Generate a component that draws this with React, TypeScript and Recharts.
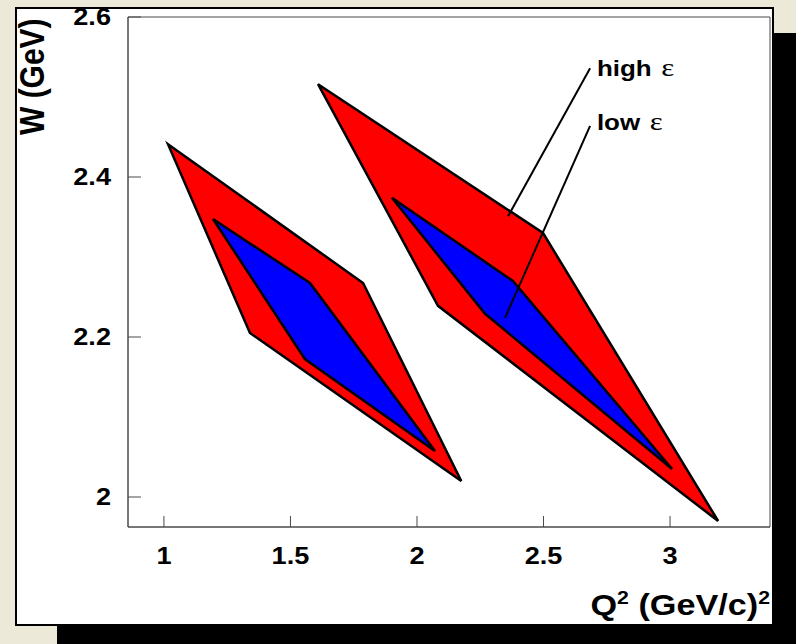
import { ScatterChart, Scatter, XAxis, YAxis, ReferenceArea } from "recharts";

// axes
const X_DOMAIN: [number, number] = [0.858, 3.395];
const Y_DOMAIN: [number, number] = [1.9625, 2.6];
const X_TICKS = [1, 1.5, 2, 2.5, 3];
const Y_TICKS = [2, 2.2, 2.4, 2.6];

// kinematic coverage, vertices as (Q^2, W)
const leftHigh = [
  { q: 1.016, w: 2.441 },
  { q: 1.787, w: 2.2675 },
  { q: 2.175, w: 2.02 },
  { q: 1.34, w: 2.205 },
];
const leftLow = [
  { q: 1.194, w: 2.3475 },
  { q: 1.577, w: 2.2675 },
  { q: 2.071, w: 2.0575 },
  { q: 1.557, w: 2.1725 },
];
const rightHigh = [
  { q: 1.609, w: 2.516 },
  { q: 2.498, w: 2.33 },
  { q: 3.19, w: 1.97 },
  { q: 2.083, w: 2.239 },
];
const rightLow = [
  { q: 1.901, w: 2.374 },
  { q: 2.379, w: 2.27 },
  { q: 3.008, w: 2.035 },
  { q: 2.269, w: 2.229 },
];

// annotation pointers and their labels
const highPointer = [
  { q: 2.36, w: 2.351 },
  { q: 2.684, w: 2.536 },
];
const lowPointer = [
  { q: 2.348, w: 2.224 },
  { q: 2.684, w: 2.464 },
];
const labels = [
  { q: 2.711, w: 2.526, text: "high" },
  { q: 2.711, w: 2.459, text: "low" },
];

const SX = 1.18;
const SANS = "'Liberation Sans', Arial, Helvetica, sans-serif";
const SERIF = "'Liberation Serif', 'Times New Roman', serif";
const AXIS = "#4a4a4a";

const polygon = (fill: string) => (p: any) => (
  <polygon
    points={(p.points || []).map((pt: any) => `${pt.x},${pt.y}`).join(" ")}
    fill={fill}
    stroke="#000"
    strokeWidth={2.5}
    strokeLinejoin="miter"
  />
);

const noDot = () => <g />;

function XTick({ x, y, payload }: any) {
  return (
    <g>
      <line x1={x} x2={x} y1={y} y2={y - 11} stroke={AXIS} strokeWidth={1} />
      <text
        transform={`translate(${x},${y + 37}) scale(${SX},1)`}
        textAnchor="middle"
        fontFamily={SANS}
        fontWeight={700}
        fontSize={23}
        fill="#000"
      >
        {payload.value}
      </text>
    </g>
  );
}

function YTick({ x, y, payload }: any) {
  return (
    <g>
      <line x1={x} x2={x + 13} y1={y} y2={y} stroke={AXIS} strokeWidth={1} />
      <text
        transform={`translate(${x - 17},${y + 8}) scale(${SX},1)`}
        textAnchor="end"
        fontFamily={SANS}
        fontWeight={700}
        fontSize={23}
        fill="#000"
      >
        {payload.value}
      </text>
    </g>
  );
}

function XTitle({ viewBox }: any) {
  const vb = viewBox || { x: 128, y: 527, width: 642 };
  return (
    <text
      transform={`translate(${vb.x + vb.width},${vb.y + 88}) scale(${SX},1)`}
      textAnchor="end"
      fontFamily={SANS}
      fontWeight={700}
      fontSize={29}
      fill="#000"
    >
      Q
      <tspan fontSize={18} dy={-11}>2</tspan>
      <tspan dy={11}> (GeV/c)</tspan>
      <tspan fontSize={18} dy={-11}>2</tspan>
    </text>
  );
}

function YTitle({ viewBox }: any) {
  const vb = viewBox || { x: 0, y: 17 };
  return (
    <text
      transform={`translate(${vb.x + 44},${vb.y + 118}) scale(${SX},1) rotate(-90)`}
      textAnchor="start"
      fontFamily={SANS}
      fontWeight={700}
      fontSize={30}
      fill="#000"
    >
      W (GeV)
    </text>
  );
}

function LabelMark({ cx, cy, payload }: any) {
  return (
    <text
      transform={`translate(${cx},${cy}) scale(${SX},1)`}
      fontFamily={SANS}
      fontWeight={700}
      fontSize={22}
      fill="#000"
    >
      {payload.text + " "}
      <tspan fontFamily={SERIF} fontWeight={400} fontSize={26} dx={2}>
        ε
      </tspan>
    </text>
  );
}

export default function App() {
  return (
    <div
      style={{
        position: "fixed",
        left: 0,
        top: 0,
        width: 796,
        height: 644,
        background: "#ECE9D8",
        overflow: "hidden",
      }}
    >
      <div style={{ position: "absolute", left: 57, top: 33, width: 800, height: 700, background: "#000" }} />
      <div
        style={{
          position: "absolute",
          left: 15,
          top: 7,
          width: 759,
          height: 619,
          boxSizing: "border-box",
          border: "2px solid #000",
          background: "#fff",
        }}
      />
      <div style={{ position: "absolute", left: 0, top: 0 }}>
        <ScatterChart width={796} height={644} margin={{ top: 17, right: 26, bottom: 0, left: 0 }}>
          <XAxis
            type="number"
            dataKey="q"
            domain={X_DOMAIN}
            ticks={X_TICKS}
            interval={0}
            allowDataOverflow
            height={117}
            tickSize={0}
            tickMargin={0}
            tickLine={false}
            axisLine={{ stroke: AXIS, strokeWidth: 1 }}
            tick={<XTick />}
            label={{ content: <XTitle /> }}
          />
          <YAxis
            type="number"
            dataKey="w"
            domain={Y_DOMAIN}
            ticks={Y_TICKS}
            interval={0}
            allowDataOverflow
            width={128}
            tickSize={0}
            tickMargin={0}
            tickLine={false}
            axisLine={{ stroke: AXIS, strokeWidth: 1 }}
            tick={<YTick />}
            label={{ content: <YTitle /> }}
          />
          <ReferenceArea
            x1={X_DOMAIN[0]}
            x2={X_DOMAIN[1]}
            y1={Y_DOMAIN[0]}
            y2={Y_DOMAIN[1]}
            fill="none"
            stroke={AXIS}
            strokeWidth={1}
          />
          <Scatter data={leftHigh} line={polygon("#FF0000")} lineType="joint" shape={noDot} isAnimationActive={false} />
          <Scatter data={rightHigh} line={polygon("#FF0000")} lineType="joint" shape={noDot} isAnimationActive={false} />
          <Scatter data={leftLow} line={polygon("#0000FF")} lineType="joint" shape={noDot} isAnimationActive={false} />
          <Scatter data={rightLow} line={polygon("#0000FF")} lineType="joint" shape={noDot} isAnimationActive={false} />
          <Scatter
            data={highPointer}
            line={{ stroke: "#000", strokeWidth: 2 }}
            lineType="joint"
            shape={noDot}
            isAnimationActive={false}
          />
          <Scatter
            data={lowPointer}
            line={{ stroke: "#000", strokeWidth: 2 }}
            lineType="joint"
            shape={noDot}
            isAnimationActive={false}
          />
          <Scatter data={labels} shape={(p: any) => <LabelMark {...p} />} isAnimationActive={false} />
        </ScatterChart>
      </div>
    </div>
  );
}
